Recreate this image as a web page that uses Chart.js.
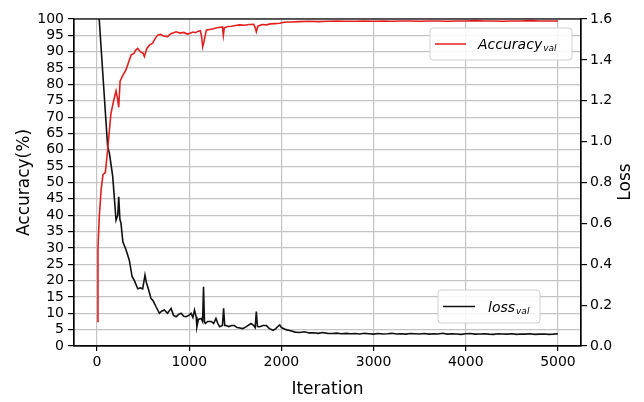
<!DOCTYPE html>
<html>
<head>
<meta charset="utf-8">
<script src="https://cdn.jsdelivr.net/npm/chart.js@4/dist/chart.umd.min.js"></script>
<style>
html,body{margin:0;padding:0;background:#fff;}
#wrap{width:644px;height:402px;position:relative;}
</style>
</head>
<body>
<div id="wrap"><canvas id="c" width="644" height="402"></canvas></div>
<script>
// ---- data ----
const accIter = [0,10,25,45,65,90,115,150,180,206,220,235,250,275,315,345,370,400,420,440,470,500,514,540,568,600,630,655,690,720,765,800,830,858,900,940,980,1003,1040,1070,1092,1120,1135,1146,1160,1185,1220,1260,1300,1340,1360,1370,1380,1420,1460,1500,1547,1600,1650,1700,1715,1728,1745,1790,1837,1880,1930,1982,2030,
  2100,2200,2300,2400,2500,2600,2700,2800,2900,3000,3100,3200,3300,3400,3500,3600,3700,3800,3900,4000,4100,4200,4300,4400,4500,4600,4700,4800,4900,5000];
const accVal = [7.5,30,40,48,52.5,53,60,71,75,78,76,73,81,82.5,84.5,87,89,89.5,90.5,91,90,89.5,88.5,91,92,92.5,94,95,95.3,94.8,94.6,95.5,95.8,96.1,95.7,95.9,95.4,95.6,96,95.8,96.2,96.4,94.5,91.5,93,96.6,96.8,97,97.3,97.5,97.6,95,97.3,97.7,97.8,98,98.2,98.1,98.3,98.4,97.5,96.1,97.8,98.3,98.2,98.5,98.6,98.7,99,
  99.1,99.2,99.3,99.2,99.3,99.4,99.3,99.3,99.4,99.3,99.4,99.3,99.4,99.4,99.3,99.4,99.4,99.3,99.4,99.4,99.5,99.4,99.4,99.3,99.4,99.4,99.5,99.4,99.4,99.4];

const lossIter = [0,115,134,170,206,225,235,248,260,280,315,350,380,405,442,470,495,520,535,550,585,610,640,677,700,730,765,803,830,858,885,912,940,966,995,1020,1040,1057,1075,1083,1100,1130,1145,1155,1165,1175,1200,1240,1265,1290,1310,1330,1360,1373,1385,1400,1430,1460,1490,1520,1550,1580,1620,1670,1700,1715,1728,1740,1765,1800,1837,1870,1910,1940,1960,1982,2000,
  2050,2100,2150,2200,2250,2300,2350,2400,2450,2500,2550,2600,2650,2700,2750,2800,2850,2900,2950,3000,3050,3100,3150,3200,3250,3300,3350,3400,3450,3500,3550,3600,3650,3700,3750,3800,3850,3900,3950,4000,4050,4100,4150,4200,4250,4300,4350,4400,4450,4500,4550,4600,4650,4700,4750,4800,4850,4900,4950,5000];
const lossVal = [1.76,0.975,0.943,0.83,0.616,0.64,0.73,0.62,0.6,0.51,0.47,0.42,0.34,0.32,0.28,0.285,0.28,0.347,0.31,0.29,0.233,0.22,0.192,0.16,0.17,0.176,0.16,0.184,0.15,0.143,0.155,0.16,0.145,0.143,0.15,0.16,0.14,0.176,0.143,0.094,0.13,0.135,0.12,0.29,0.12,0.11,0.12,0.12,0.11,0.135,0.11,0.094,0.1,0.184,0.1,0.1,0.095,0.1,0.1,0.09,0.088,0.085,0.095,0.11,0.1,0.09,0.168,0.095,0.094,0.1,0.1,0.085,0.077,0.085,0.095,0.103,0.09,
  0.08,0.075,0.068,0.066,0.07,0.064,0.065,0.062,0.066,0.062,0.061,0.063,0.06,0.062,0.06,0.061,0.059,0.062,0.06,0.058,0.061,0.059,0.06,0.062,0.059,0.06,0.058,0.061,0.06,0.059,0.061,0.058,0.06,0.059,0.062,0.058,0.06,0.059,0.057,0.06,0.061,0.058,0.059,0.06,0.058,0.057,0.06,0.059,0.058,0.06,0.057,0.059,0.058,0.06,0.057,0.058,0.059,0.057,0.058,0.06];

const xTicks = [0, 1000, 2000, 3000, 4000, 5000];
const accTicks = [0,5,10,15,20,25,30,35,40,45,50,55,60,65,70,75,80,85,90,95,100];
const lossTicks = [0.0, 0.2, 0.4, 0.6, 0.8, 1.0, 1.2, 1.4, 1.6];

const FONT = "'DejaVu Sans', sans-serif";

const frameAndLegend = {
  id: 'frameAndLegend',
  afterDatasetsDraw(chart) {
    const ctx = chart.ctx;
    const a = chart.chartArea;
    ctx.save();
    ctx.strokeStyle = '#000';
    ctx.lineWidth = 1.2;
    ctx.strokeRect(a.left, a.top, a.right - a.left, a.bottom - a.top);

    function legendBox(x, y, w, h, color, main, sub, lx0, lx1, tx) {
      ctx.beginPath();
      const r = 3;
      ctx.moveTo(x + r, y);
      ctx.lineTo(x + w - r, y); ctx.arcTo(x + w, y, x + w, y + r, r);
      ctx.lineTo(x + w, y + h - r); ctx.arcTo(x + w, y + h, x + w - r, y + h, r);
      ctx.lineTo(x + r, y + h); ctx.arcTo(x, y + h, x, y + h - r, r);
      ctx.lineTo(x, y + r); ctx.arcTo(x, y, x + r, y, r);
      ctx.closePath();
      ctx.fillStyle = 'rgba(255,255,255,0.85)';
      ctx.fill();
      ctx.strokeStyle = '#d0d0d0';
      ctx.lineWidth = 1;
      ctx.stroke();
      const cy = y + h / 2;
      ctx.beginPath();
      ctx.moveTo(lx0, cy); ctx.lineTo(lx1, cy);
      ctx.strokeStyle = color; ctx.lineWidth = 1.5; ctx.stroke();
      ctx.fillStyle = '#000';
      ctx.textBaseline = 'alphabetic';
      ctx.textAlign = 'left';
      ctx.font = "italic 14px " + FONT;
      const base = cy + 5;
      ctx.fillText(main, tx, base);
      const w1 = ctx.measureText(main).width;
      ctx.font = "italic 9px " + FONT;
      ctx.fillText(sub, tx + w1 + 1, base + 2);
    }
    legendBox(430, 28, 142, 32, '#e02020', 'Accuracy', 'val', 435, 466, 478);
    legendBox(438, 290, 102, 33, '#111111', 'loss', 'val', 443, 475, 488);

    ctx.save();
    ctx.translate(626, 182);
    ctx.rotate(-Math.PI / 2);
    ctx.font = "17px " + FONT;
    ctx.fillStyle = '#000';
    ctx.textAlign = 'center';
    ctx.textBaseline = 'middle';
    ctx.fillText('Loss', 0, 0);
    ctx.restore();
    ctx.restore();
  }
};

new Chart(document.getElementById('c'), {
  type: 'line',
  data: {
    datasets: [
      {
        label: 'Accuracy_val',
        data: accIter.map((x, i) => ({x: x, y: accVal[i]})),
        yAxisID: 'y',
        borderColor: '#e02020',
        borderWidth: 1.6,
        pointRadius: 0,
        tension: 0
      },
      {
        label: 'loss_val',
        data: lossIter.map((x, i) => ({x: x, y: lossVal[i]})),
        yAxisID: 'y2',
        borderColor: '#111111',
        borderWidth: 1.6,
        pointRadius: 0,
        tension: 0
      }
    ]
  },
  options: {
    responsive: false,
    animation: false,
    events: [],
    layout: { padding: { top: 19, left: 0, right: 0, bottom: 0 } },
    plugins: { legend: { display: false }, tooltip: { enabled: false } },
    scales: {
      x: {
        type: 'linear',
        min: -250, max: 5250,
        afterFit(s) { s.height = 56; },
        afterBuildTicks(s) { s.ticks = xTicks.map(v => ({value: v})); },
        ticks: {
          font: { family: FONT, size: 14 }, color: '#000', padding: 3,
          maxRotation: 0, autoSkip: false,
          callback: v => String(v)
        },
        grid: { color: '#c4c4c4', lineWidth: 1.2, tickColor: '#000', tickLength: 5 },
        border: { display: true, color: '#000', width: 1.2 },
        title: { display: true, text: 'Iteration', font: { family: FONT, size: 17 }, color: '#000', padding: { top: 0, bottom: 2 } }
      },
      y: {
        position: 'left',
        min: 0, max: 100,
        afterFit(s) { s.width = 74; },
        afterBuildTicks(s) { s.ticks = accTicks.map(v => ({value: v})); },
        ticks: {
          font: { family: FONT, size: 14 }, color: '#000', padding: 4,
          autoSkip: false,
          callback: v => String(v)
        },
        grid: { color: '#c4c4c4', lineWidth: 1.2, tickColor: '#000', tickLength: 6 },
        border: { display: true, color: '#000', width: 1.2 },
        title: { display: true, text: 'Accuracy(%)', font: { family: FONT, size: 17 }, color: '#000', padding: { top: 14, bottom: 0 } }
      },
      y2: {
        position: 'right',
        min: 0, max: 1.6,
        afterFit(s) { s.width = 63; },
        afterBuildTicks(s) { s.ticks = lossTicks.map(v => ({value: v})); },
        ticks: {
          font: { family: FONT, size: 14 }, color: '#000', padding: 3,
          autoSkip: false,
          callback: v => Number(v).toFixed(1)
        },
        grid: { drawOnChartArea: false, tickColor: '#000', tickLength: 6, lineWidth: 1.2 },
        border: { display: true, color: '#000', width: 1.2 }
      }
    }
  },
  plugins: [frameAndLegend]
});
</script>
</body>
</html>
